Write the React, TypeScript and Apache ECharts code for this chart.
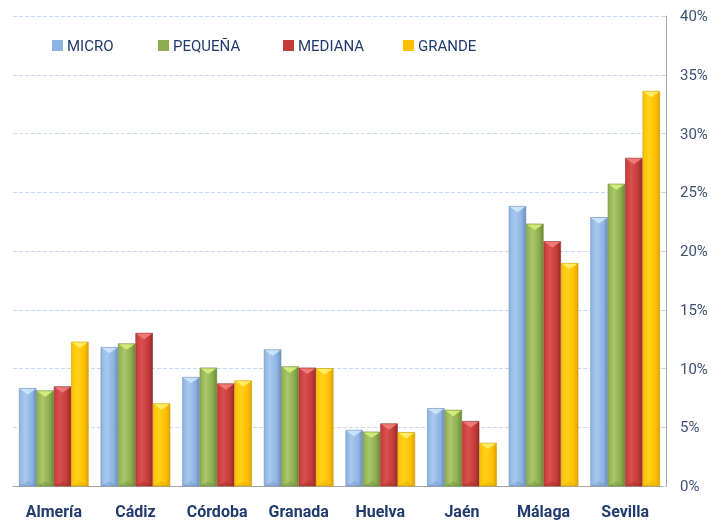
import React, { useEffect, useRef } from "react";
import * as echarts from "echarts";

const categories = ["Almería", "Cádiz", "Córdoba", "Granada", "Huelva", "Jaén", "Málaga", "Sevilla"];
const micro = [8.3, 11.8, 9.25, 11.6, 4.75, 6.6, 23.8, 22.85];
const pequena = [8.1, 12.1, 10.05, 10.15, 4.6, 6.45, 22.3, 25.7];
const mediana = [8.45, 13.0, 8.7, 10.05, 5.3, 5.5, 20.8, 27.9];
const grande = [12.25, 7.0, 8.95, 10.0, 4.55, 3.65, 18.95, 33.6];
const seriesNames = ["MICRO", "PEQUEÑA", "MEDIANA", "GRANDE"];

const FONT = "Roboto, sans-serif";
const NAVY = "#1F3A6E";

const palettes = [
  { light: "#A9C8EE", mid: "#8DB4E2", dark: "#6A8FBF", tip: "#CDE6FF", border: "#6F8FB8" },
  { light: "#A9C86A", mid: "#8DAE4E", dark: "#6B8A36", tip: "#D6F07A", border: "#6C8A38" },
  { light: "#DB4F4C", mid: "#C43C3A", dark: "#9A2A28", tip: "#F08080", border: "#962B29" },
  { light: "#FFD11A", mid: "#FFC000", dark: "#E0A200", tip: "#FFF06A", border: "#C9A000" },
];

function grad(p: any) {
  return new echarts.graphic.LinearGradient(0, 0, 1, 0, [
    { offset: 0, color: p.mid },
    { offset: 0.35, color: p.light },
    { offset: 0.75, color: p.mid },
    { offset: 1, color: p.dark },
  ]);
}

const BAR_W = 16.8;
const STEP = 17.4;

export default function App() {
  const ref = useRef<HTMLDivElement>(null);
  useEffect(() => {
    if (!ref.current) return;
    const chart = echarts.init(ref.current, undefined, { renderer: "svg" });
    const allData = [micro, pequena, mediana, grande];
    const legendLeft = [52, 158, 283, 403];
    const makeRender = (si: number) => (params: any, api: any) => {
      const ci = api.value(0);
      const v = api.value(1);
      const top = api.coord([ci, v]);
      const base = api.coord([ci, 0]);
      const cx = top[0] + (si - 1.5) * STEP;
      const x0 = cx - BAR_W / 2;
      const h = base[1] - top[1];
      const p = palettes[si];
      const tri = Math.min(6, h);
      return {
        type: "group",
        children: [
          {
            type: "rect",
            shape: { x: x0, y: top[1], width: BAR_W, height: h },
            style: { fill: grad(p), stroke: p.border, lineWidth: 0.6 },
          },
          {
            type: "polygon",
            shape: { points: [[x0 + 0.5, top[1] + 0.5], [x0 + BAR_W - 0.5, top[1] + 0.5], [cx, top[1] + tri]] },
            style: { fill: p.tip, opacity: 0.9 },
          },
          {
            type: "polygon",
            shape: { points: [[x0 + 0.5, base[1]], [x0 + BAR_W - 0.5, base[1]], [cx, base[1] - Math.min(5, h)]] },
            style: { fill: p.dark, opacity: 0.35 },
          },
        ],
      };
    };
    chart.setOption({
      animation: false,
      grid: { left: 13, right: 45, top: 16, bottom: 40 },
      legend: seriesNames.map((n, i) => ({
        data: [{ name: n, itemStyle: { color: palettes[i].mid } }],
        left: legendLeft[i],
        top: 38,
        padding: 0,
        itemWidth: 11,
        itemHeight: 11,
        icon: "rect",
        itemGap: 4,
        textStyle: { fontFamily: FONT, fontSize: 15, color: NAVY, padding: [0, 0, 0, -1] },
      })),
      xAxis: {
        type: "category",
        data: categories,
        axisLine: { lineStyle: { color: "#A6A6A6" } },
        axisTick: { show: false },
        axisLabel: { interval: 0, fontFamily: FONT, fontSize: 16, fontWeight: "bold", color: NAVY, margin: 17 },
      },
      yAxis: {
        type: "value",
        position: "right",
        min: 0,
        max: 40,
        interval: 5,
        axisLine: { show: true, lineStyle: { color: "#A6A6A6" } },
        axisTick: { show: true, inside: true, length: 4, lineStyle: { color: "#C8D4E4" } },
        axisLabel: { fontFamily: FONT, fontSize: 15, color: "#3E5073", formatter: (v: number) => v + "%", margin: 14 },
        splitLine: { lineStyle: { color: "#C6D9F1", type: "dashed" } },
      },
      series: seriesNames.map((n, si) => ({
        name: n,
        type: "custom",
        itemStyle: { color: palettes[si].mid },
        data: allData[si].map((v, ci) => [ci, v]),
        encode: { x: 0, y: 1 },
        renderItem: makeRender(si),
      })),
    });
    return () => chart.dispose();
  }, []);
  return <div ref={ref} style={{ position: "fixed", left: 0, top: 0, width: 711, height: 526 }} />;
}
